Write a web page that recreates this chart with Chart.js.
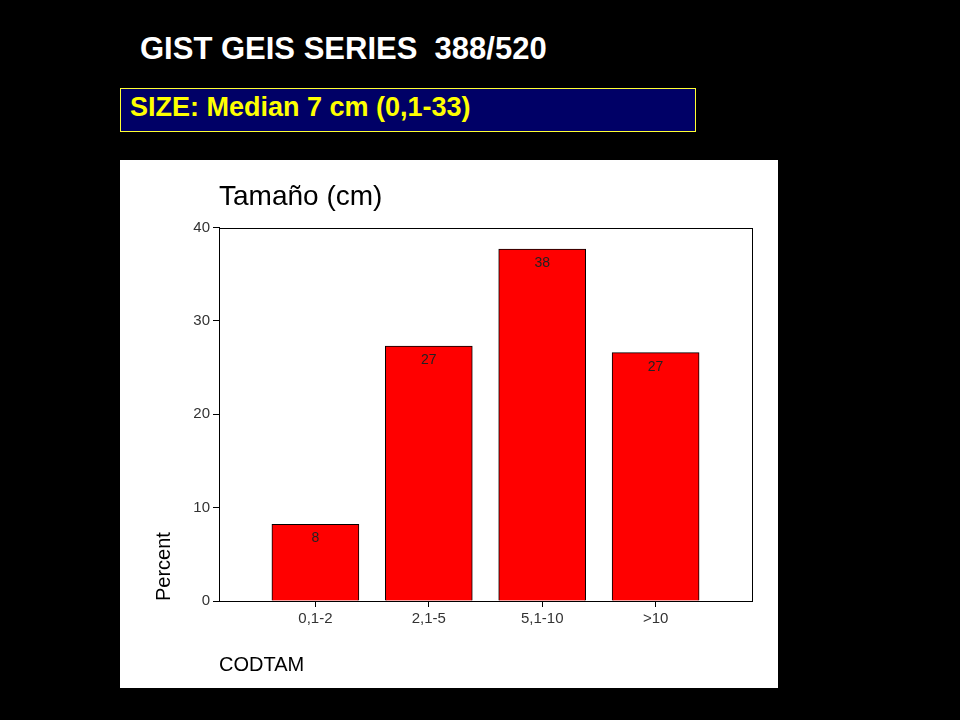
<!DOCTYPE html>
<html>
<head>
<meta charset="utf-8">
<script src="https://cdn.jsdelivr.net/npm/chart.js@4/dist/chart.umd.min.js"></script>
<style>
  body { margin: 0; background: #000; width: 960px; height: 720px; overflow: hidden; font-family: "Liberation Sans", Arial, sans-serif; }
  #head { position: absolute; left: 140px; top: 33px; color: #fff; font-weight: bold; font-size: 31px; line-height: 31px; white-space: pre; }
  #box { position: absolute; left: 120px; top: 88px; width: 565px; height: 42px; border: 1px solid #ffff33; background: #000066;
         color: #ffff00; font-weight: bold; font-size: 27px; line-height: 36px; padding-left: 9px; }
  #panel { position: absolute; left: 120px; top: 160px; width: 658px; height: 528px; background: #fff; }
</style>
</head>
<body>
<div id="head">GIST GEIS SERIES  388/520</div>
<div id="box">SIZE: Median 7 cm (0,1-33)</div>
<div id="panel"><canvas id="chart" width="658" height="528"></canvas></div>
<script>
const categories = ["0,1-2", "2,1-5", "5,1-10", ">10"];
const percents = [8.2, 27.3, 37.7, 26.6];
const yTicks = [0, 10, 20, 30, 40];

// value labels inside the top of each bar
const barLabels = {
  id: "barLabels",
  afterDatasetsDraw(chart) {
    const ctx = chart.ctx;
    ctx.save();
    ctx.fillStyle = "#222";
    ctx.font = "14px 'Liberation Sans', Arial";
    ctx.textAlign = "center";
    ctx.textBaseline = "middle";
    chart.getDatasetMeta(0).data.forEach((bar, i) => {
      ctx.fillText(String(Math.round(percents[i])), bar.x, bar.y + 14);
    });
    ctx.restore();
  }
};

// frame round the plot area
const frame = {
  id: "frame",
  afterDraw(chart) {
    const a = chart.chartArea;
    const ctx = chart.ctx;
    ctx.save();
    ctx.strokeStyle = "#000";
    ctx.lineWidth = 1;
    ctx.strokeRect(Math.round(a.left) + 0.5, Math.round(a.top) + 0.5, Math.round(a.right - a.left), Math.round(a.bottom - a.top));
    ctx.restore();
  }
};

new Chart(document.getElementById("chart"), {
  type: "bar",
  data: {
    datasets: [{
      data: categories.map((c, i) => ({ x: i, y: percents[i] })),
      backgroundColor: "#ff0000",
      borderColor: "#000",
      borderWidth: 1,
      barThickness: 87
    }]
  },
  options: {
    responsive: false,
    animation: false,
    layout: { padding: { left: 0, right: 26, top: 0, bottom: 0 } },
    plugins: {
      legend: { display: false },
      tooltip: { enabled: false },
      title: {
        display: true,
        text: "Tamaño (cm)",
        align: "start",
        fullSize: false,
        color: "#000",
        font: { family: "'Liberation Sans', Arial", size: 28, weight: "normal" },
        padding: { top: 20, bottom: 14 }
      }
    },
    scales: {
      x: {
        type: "linear",
        min: -0.85,
        max: 3.85,
        offset: false,
        afterBuildTicks: scale => { scale.ticks = categories.map((c, i) => ({ value: i })); },
        afterFit: scale => { scale.height = 87; },
        grid: { drawOnChartArea: false, offset: false, tickLength: 6, color: "#000" },
        border: { color: "#000" },
        ticks: {
          callback: v => categories[v],
          color: "#333",
          padding: 3,
          maxRotation: 0,
          font: { family: "'Liberation Sans', Arial", size: 15 }
        },
        title: {
          display: true,
          text: "CODTAM",
          align: "start",
          color: "#000",
          font: { family: "'Liberation Sans', Arial", size: 20 },
          padding: { top: 0, bottom: 11 }
        }
      },
      y: {
        min: 0,
        max: 40,
        afterBuildTicks: scale => { scale.ticks = yTicks.map(v => ({ value: v })); },
        afterFit: scale => { scale.width = 99; },
        grid: { drawOnChartArea: false, tickLength: 6, color: "#000" },
        border: { color: "#000" },
        ticks: {
          color: "#333",
          padding: 3,
          font: { family: "'Liberation Sans', Arial", size: 15 }
        },
        title: {
          display: true,
          text: "Percent",
          align: "start",
          color: "#000",
          font: { family: "'Liberation Sans', Arial", size: 20 },
          padding: { top: 32, bottom: 0 }
        }
      }
    }
  },
  plugins: [barLabels, frame]
});
</script>
</body>
</html>
